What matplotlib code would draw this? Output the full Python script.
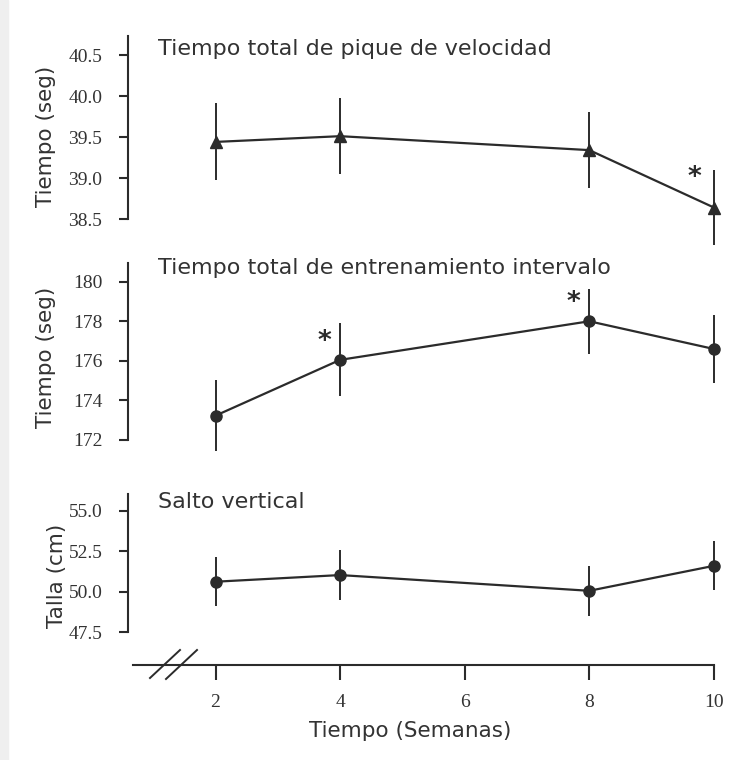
import matplotlib
matplotlib.use('Agg')
import matplotlib.pyplot as plt
from matplotlib.lines import Line2D
from matplotlib.patches import Rectangle

# data (means +/- error, weeks 2, 4, 8, 10)
weeks = [2, 4, 8, 10]
week_ticks = [2, 4, 6, 8, 10]

pique = [39.44, 39.51, 39.34, 38.64]
pique_err = [0.47, 0.46, 0.46, 0.46]
pique_sig = [False, False, False, True]

intervalo = [173.23, 176.05, 178.0, 176.6]
intervalo_err = [1.78, 1.85, 1.65, 1.70]
intervalo_sig = [False, True, True, False]

salto = [50.62, 51.03, 50.06, 51.6]
salto_err = [1.52, 1.54, 1.54, 1.52]
salto_sig = [False, False, False, False]

pique_ticks = [38.5, 39.0, 39.5, 40.0, 40.5]
intervalo_ticks = [172, 174, 176, 178, 180]
salto_ticks = [47.5, 50.0, 52.5, 55.0]

W, H = 737, 760
INK = '#2b2b2b'
SANS = 'DejaVu Sans'
SERIF = 'Liberation Serif'

fig = plt.figure(figsize=(W / 100, H / 100), dpi=100)
fig.patch.set_facecolor('white')
fig.patches.append(Rectangle((0, 0), 8 / W, 1, transform=fig.transFigure,
                             color='#efefef', zorder=-10))

# pixel layout helpers
X0_PX, X_PER_WEEK = 215.5, 62.3
LEFT, RIGHT = 128, 725


def fx(px):
    return px / W


def fy(py):
    return 1 - py / H


def xlim_px(left, right):
    return (2 + (left - X0_PX) / X_PER_WEEK, 2 + (right - X0_PX) / X_PER_WEEK)


def ylim_px(top, bottom, v1, p1, v2, p2):
    s = (v1 - v2) / (p2 - p1)
    return (v2 - (bottom - p2) * s, v1 + (p1 - top) * s)


panels = [
    dict(y=pique, err=pique_err, sig=pique_sig, ticks=pique_ticks, fmt='{:.1f}',
         marker='^', ms=9, title='Tiempo total de pique de velocidad',
         ylabel='Tiempo (seg)', top=36, bottom=250, cal=(40.5, 55, 38.5, 219),
         title_y=55, ylab=(46, 136), star=(-19, 37)),
    dict(y=intervalo, err=intervalo_err, sig=intervalo_sig, ticks=intervalo_ticks,
         fmt='{:d}', marker='o', ms=8, title='Tiempo total de entrenamiento intervalo',
         ylabel='Tiempo (seg)', top=263, bottom=460, cal=(180, 281.7, 172, 440),
         title_y=274, ylab=(46, 357), star=(-16, 25)),
    dict(y=salto, err=salto_err, sig=salto_sig, ticks=salto_ticks, fmt='{:.1f}',
         marker='o', ms=8, title='Salto vertical',
         ylabel='Talla (cm)', top=494, bottom=665, cal=(55.0, 510.7, 47.5, 632.3),
         title_y=508, ylab=(57, 576), star=(0, 0)),
]

axes = []
for i, p in enumerate(panels):
    ax = fig.add_axes([fx(LEFT), fy(p['bottom']), fx(RIGHT - LEFT),
                       (p['bottom'] - p['top']) / H])
    ax.patch.set_alpha(0)
    ax.set_xlim(*xlim_px(LEFT, RIGHT))
    ylo, yhi = ylim_px(p['top'], p['bottom'], *p['cal'])
    ax.set_ylim(ylo, yhi)

    ax.errorbar(weeks, p['y'], yerr=p['err'], fmt='-', marker=p['marker'],
                ms=p['ms'], color=INK, lw=1.6, elinewidth=1.4, capsize=0,
                clip_on=False, zorder=3)

    for w, v, s in zip(weeks, p['y'], p['sig']):
        if s:
            ax.annotate('*', (w, v), xytext=(p['star'][0], p['star'][1] - 14),
                        textcoords='offset pixels', ha='center', va='baseline',
                        fontsize=19, fontweight='bold', color=INK, family=SANS)

    for side in ('top', 'right'):
        ax.spines[side].set_visible(False)
    ax.spines['left'].set_bounds(p['ticks'][0], yhi)
    ax.spines['left'].set_linewidth(1.5)
    ax.spines['left'].set_color(INK)

    ax.set_yticks(p['ticks'])
    ax.set_yticklabels([p['fmt'].format(t) for t in p['ticks']],
                       family=SERIF, fontsize=14, color='#333333')
    ax.tick_params(axis='y', direction='out', length=6.5, width=1.5,
                   color=INK, pad=12)

    if i < 2:
        ax.spines['bottom'].set_visible(False)
        ax.set_xticks([])
    else:
        ax.spines['bottom'].set_bounds(xlim_px(133, 0)[0], 10)
        ax.spines['bottom'].set_linewidth(1.5)
        ax.spines['bottom'].set_color(INK)
        ax.set_xticks(week_ticks)
        ax.set_xticklabels([str(t) for t in week_ticks], family=SERIF,
                           fontsize=14, color='#333333')
        ax.tick_params(axis='x', direction='out', length=11, width=1.5,
                       color=INK, pad=10)

    fig.text(fx(158), fy(p['title_y']), p['title'], family=SANS, fontsize=16,
             color='#333333', ha='left', va='baseline')
    fig.text(fx(p['ylab'][0]), fy(p['ylab'][1]), p['ylabel'], family=SANS,
             fontsize=15.5, color='#333333', rotation=90, ha='center', va='center')
    axes.append(ax)

# axis break marks
for x1, y1, x2, y2 in [(150, 678, 180, 650), (166, 679, 197, 650)]:
    fig.add_artist(Line2D([fx(x1), fx(x2)], [fy(y1), fy(y2)], color=INK, lw=1.4))

fig.text(fx(410), fy(737), 'Tiempo (Semanas)', family=SANS, fontsize=15.5,
         color='#333333', ha='center', va='baseline')

plt.savefig('out.png', dpi=100)
